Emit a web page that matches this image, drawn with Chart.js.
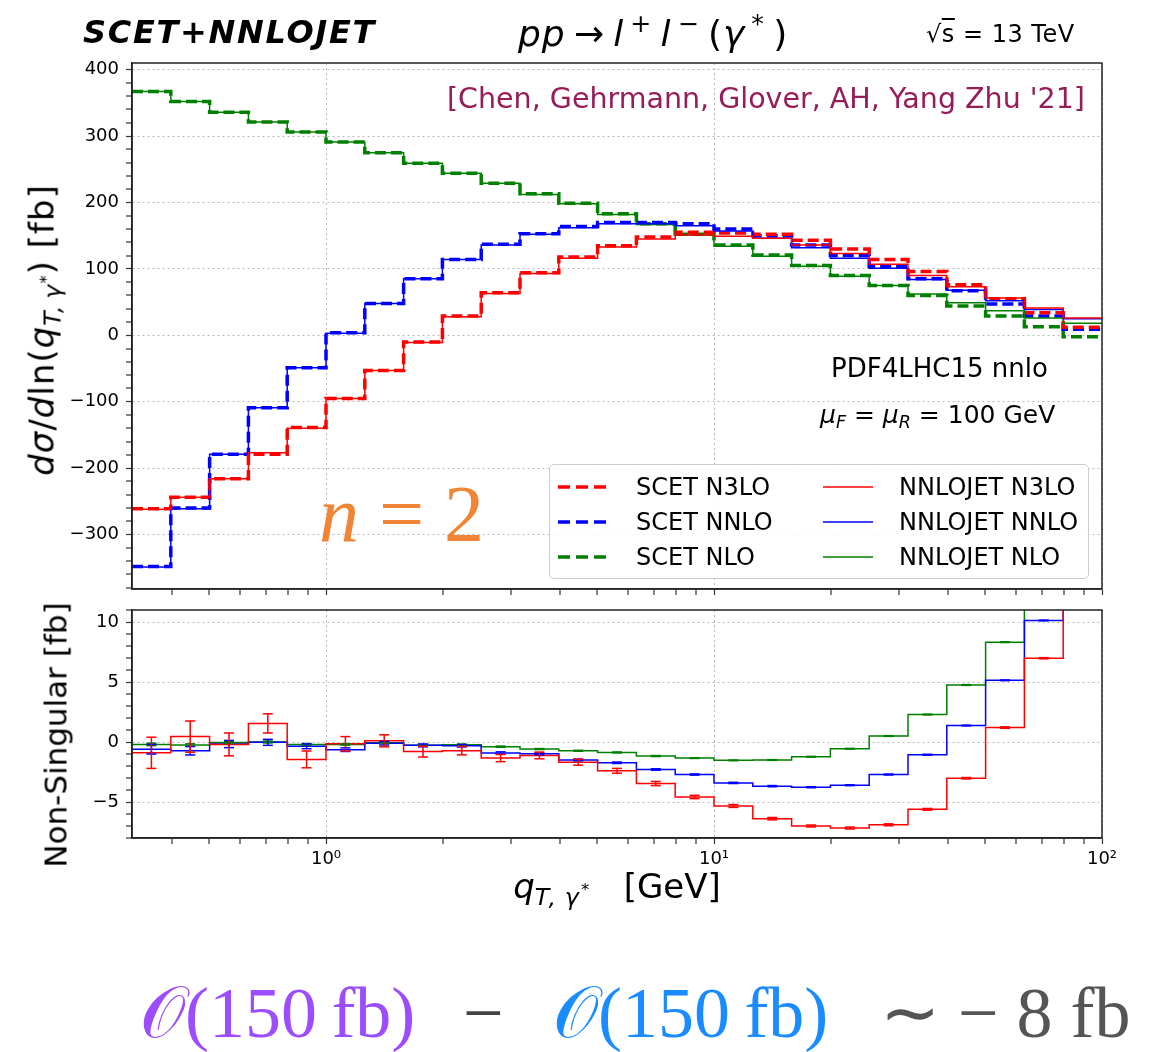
<!DOCTYPE html>
<html lang="en">
<head>
  <meta charset="UTF-8">
  <title>SCET vs NNLOJET qT</title>
  <script src="https://cdn.jsdelivr.net/npm/chart.js"></script>
  <style>
    body { margin: 0; background: #fff; font-family: 'DejaVu Sans', sans-serif; }
    #page { position: relative; width: 1157px; height: 1052px; overflow: hidden; }
    canvas { position: absolute; left: 0; }
    .txt { position: absolute; white-space: nowrap; color: #000; line-height: 1; }
    .rot { transform: translate(-50%, -50%) rotate(-90deg); }
    .ctr { transform: translate(-50%, -50%); }
    .sub { font-size: 0.7em; vertical-align: -0.3em; }
    .sup { font-size: 0.7em; vertical-align: 0.55em; }
    #legend { position: absolute; left: 549px; top: 464px; width: 538px; height: 113px;
      border: 1px solid #ccc; border-radius: 5px; background: rgba(255,255,255,0.85); }
    .leg { position: absolute; font-size: 24px; line-height: 1; }
    .leg svg { position: absolute; left: 0; top: 2px; }
    .leg span { position: absolute; white-space: nowrap; }
    .big { position: absolute; font-family: 'Liberation Serif', serif; font-size: 72px; line-height: 1; white-space: nowrap; }
  </style>
</head>
<body>
  <div id="page">
    <canvas id="topChart" width="1157" height="600" style="top:0"></canvas>
    <canvas id="bottomChart" width="1157" height="280" style="top:600px"></canvas>

    <!-- header -->
    <div class="txt" style="left:83px; top:16px; font-size:32px; font-weight:bold; font-style:italic; letter-spacing:1.7px;">SCET+NNLOJET</div>
    <div class="txt" style="left:518px; top:11px; font-size:36px; letter-spacing:1px;"><i>pp</i>&thinsp;→&thinsp;<i>l</i><span class="sup">&thinsp;+</span>&thinsp;<i>l</i><span class="sup">&thinsp;−</span>&thinsp;(<i>γ</i><span class="sup">&thinsp;*</span>&thinsp;)</div>
    <div class="txt" style="left:926px; top:22px; font-size:24px; letter-spacing:0.5px;">√<span style="text-decoration:overline">s</span>&nbsp;=&nbsp;13 TeV</div>

    <!-- texts inside upper panel -->
    <div class="txt" style="left:447px; top:85px; font-size:28.5px; color:#961c5a;">[Chen, Gehrmann, Glover, AH, Yang Zhu '21]</div>
    <div class="txt" style="left:831px; top:355px; font-size:26px;">PDF4LHC15 nnlo</div>
    <div class="txt" style="left:820px; top:402px; font-size:25px;"><i>μ</i><span class="sub"><i>F</i></span>&nbsp;=&nbsp;<i>μ</i><span class="sub"><i>R</i></span>&nbsp;=&nbsp;100 GeV</div>
    <div class="txt" style="left:319px; top:474px; font-size:80px; color:#ef8535; font-family:'Liberation Serif', serif;"><i>n</i>&nbsp;=&nbsp;2</div>

    <div id="legend"></div>

    <!-- axis titles -->
    <div class="txt rot" style="left:45px; top:330px; font-size:34px; letter-spacing:1px;"><i>dσ</i>/<i>d</i>ln(<i>q</i><span class="sub"><i>T,&thinsp;γ</i><span class="sup">*</span></span>) [fb]</div>
    <div class="txt rot" style="left:56px; top:735px; font-size:31px;">Non-Singular [fb]</div>
    <div class="txt ctr" style="left:617px; top:889px; font-size:34px;"><i>q</i><span class="sub" style="letter-spacing:2px"><i>T,&thinsp;γ</i><span class="sup">*</span></span>&nbsp;&nbsp;&nbsp;[GeV]</div>

    <!-- bottom formula -->
    <div class="big" style="left:140px; top:977px; color:#9b4dff;">𝒪(150&thinsp;fb)</div>
    <div class="big" style="left:463px; top:977px; color:#444;">−</div>
    <div class="big" style="left:553px; top:977px; color:#1a8cff;">𝒪(150&thinsp;fb)</div>
    <div class="big" style="left:880px; top:977px; color:#555;">∼ − 8 fb</div>
  </div>

  <script>
    // bin edges in qT [GeV], 0.1 decade wide
    const binEdges = [0.3162, 0.3981, 0.5012, 0.6310, 0.7943, 1.0, 1.2589, 1.5849, 1.9953, 2.5119,
      3.1623, 3.9811, 5.0119, 6.3096, 7.9433, 10.0, 12.589, 15.849, 19.953, 25.119,
      31.623, 39.811, 50.119, 63.096, 79.433, 100.0];

    // upper panel: dsigma/dln(qT) [fb]
    const scetN3LO = [-261, -244, -216, -179, -139, -95, -53, -10, 29, 64, 94, 118, 135, 148, 155, 154, 152, 143, 130, 114, 96, 76, 55, 34, 12];
    const scetNNLO = [-348, -260, -179, -109, -49, 4, 48, 85, 114, 137, 153, 164, 170, 170, 168, 160, 150, 136, 120, 104, 85, 67, 47, 29, 9];
    const scetNLO = [367, 352, 336, 321, 306, 291, 275, 259, 244, 229, 213, 199, 183, 168, 152, 136, 121, 105, 90, 75, 60, 44, 29, 13, -2];
    const jetN3LO = [-262, -244, -216, -177, -140, -95, -53, -11, 28, 63, 93, 116, 133, 145, 151, 149, 146, 136, 123, 107, 90, 73, 56, 41, 26];
    const jetNNLO = [-349, -261, -179, -109, -49, 3, 48, 85, 114, 136, 152, 162, 168, 168, 165, 157, 146, 132, 116, 101, 84, 68, 52, 39, 25];
    const jetNLO = [367, 352, 336, 321, 306, 291, 275, 259, 244, 229, 212, 198, 182, 167, 151, 134, 119, 104, 89, 75, 62, 49, 37, 26, 18];

    // lower panel: non-singular [fb] and MC errors
    const nsN3LO = [-0.9, 0.45, -0.2, 1.55, -1.45, -0.15, 0.1, -0.8, -0.72, -1.34, -1.12, -1.68, -2.4, -3.46, -4.58, -5.33, -6.39, -7.0, -7.17, -6.9, -5.61, -3.02, 1.2, 6.98, 13.5];
    const nsNNLO = [-0.6, -0.73, -0.17, -0.03, -0.36, -0.64, -0.1, -0.28, -0.31, -0.92, -0.98, -1.5, -1.73, -2.29, -2.71, -3.41, -3.68, -3.77, -3.6, -2.71, -1.06, 1.37, 5.14, 10.13, 16.5];
    const nsNLO = [-0.2, -0.25, -0.05, 0.0, -0.2, -0.2, -0.06, -0.28, -0.22, -0.39, -0.59, -0.73, -0.87, -1.17, -1.34, -1.53, -1.5, -1.23, -0.56, 0.5, 2.29, 4.75, 8.32, 13.4, 20.0];
    const errN3LO = [1.3, 1.3, 0.95, 0.8, 0.7, 0.6, 0.5, 0.45, 0.35, 0.3, 0.28, 0.25, 0.2, 0.17, 0.14, 0.12, 0.1, 0.08, 0.08, 0.08, 0.07, 0.06, 0.06, 0.05, 0.05];
    const errNNLO = [0.4, 0.35, 0.3, 0.25, 0.2, 0.15, 0.15, 0.12, 0.1, 0.1, 0.08, 0.07, 0.06, 0.06, 0.05, 0.05, 0.05, 0.04, 0.04, 0.04, 0.04, 0.03, 0.03, 0.03, 0.03];
    const errNLO = [0.1, 0.1, 0.08, 0.08, 0.07, 0.06, 0.06, 0.05, 0.05, 0.05, 0.04, 0.04, 0.04, 0.04, 0.03, 0.03, 0.03, 0.03, 0.03, 0.03, 0.03, 0.03, 0.03, 0.03, 0.03];

    // ticks
    const xMin = 0.3162, xMax = 100;
    const xMajorTicks = [1, 10, 100];
    const xMajorLabels = ['10⁰', '10¹', '10²'];
    const xMinorTicks = [0.4, 0.5, 0.6, 0.7, 0.8, 0.9, 2, 3, 4, 5, 6, 7, 8, 9, 20, 30, 40, 50, 60, 70, 80, 90];
    const yTopMajor = [-300, -200, -100, 0, 100, 200, 300, 400];
    const yBotMajor = [-5, 0, 5, 10];

    const legendLabels = ['SCET N3LO', 'NNLOJET N3LO', 'SCET NNLO', 'NNLOJET NNLO', 'SCET NLO', 'NNLOJET NLO'];
    const RED = '#ff0000', BLUE = '#0000ff', GREEN = '#008000';

    function stepPoints(vals) {
      return binEdges.map((e, i) => ({ x: e, y: vals[Math.min(i, vals.length - 1)] }));
    }
    function errPoints(vals, errs) {
      const pts = [];
      vals.forEach((v, i) => {
        const c = Math.sqrt(binEdges[i] * binEdges[i + 1]);
        pts.push({ x: c, y: v - errs[i] }, { x: c, y: v + errs[i] }, { x: c, y: null });
      });
      return pts;
    }
    const minus = v => String(v).replace('-', '−');

    // draws the closed box around the plot area
    const frame = {
      id: 'frame',
      afterDraw(chart) {
        const a = chart.chartArea, c = chart.ctx;
        c.save();
        c.strokeStyle = '#222';
        c.lineWidth = 1.5;
        c.strokeRect(a.left, a.top, a.right - a.left, a.bottom - a.top);
        c.restore();
      }
    };

    function xAxis(showLabels, height) {
      return {
        type: 'logarithmic', min: xMin, max: xMax, bounds: 'data',
        afterBuildTicks: s => {
          s.ticks = xMinorTicks.concat(xMajorTicks).sort((a, b) => a - b).map(v => ({ value: v }));
          s.min = xMin;  // keep the exact 10^-0.5 edge
          s.max = xMax;
        },
        afterFit: s => { s.height = height; s.paddingLeft = 0; s.paddingRight = 0; },
        ticks: {
          display: showLabels, autoSkip: false, maxRotation: 0, padding: 5, color: '#000',
          font: { family: 'DejaVu Sans', size: 18 },
          callback: v => { const k = xMajorTicks.indexOf(v); return k >= 0 ? xMajorLabels[k] : ''; }
        },
        grid: {
          color: '#b8b8b8', tickColor: '#333', tickWidth: 1.2, tickLength: 6,
          lineWidth: c => (c.tick && xMajorTicks.includes(c.tick.value) ? 1 : 0)
        },
        border: { color: '#222', width: 1.5, dash: [2, 3] }
      };
    }

    function yAxis(min, max, step, majors) {
      return {
        type: 'linear', min: min, max: max,
        afterBuildTicks: s => {
          const t = [];
          for (let v = Math.ceil(min / step) * step; v <= max; v += step) t.push({ value: v });
          s.ticks = t;
        },
        afterFit: s => { s.width = 132; s.paddingTop = 0; s.paddingBottom = 0; },
        ticks: {
          autoSkip: false, padding: 7, color: '#000',
          font: { family: 'DejaVu Sans', size: 18 },
          callback: v => (majors.includes(v) ? minus(v) : '')
        },
        grid: {
          color: '#b8b8b8', tickColor: '#333', tickWidth: 1.2, tickLength: 6,
          lineWidth: c => (c.tick && majors.includes(c.tick.value) ? 1 : 0)
        },
        border: { color: '#222', width: 1.5, dash: [2, 3] }
      };
    }

    const baseOpts = {
      responsive: false,
      animation: false,
      events: [],
      plugins: { legend: { display: false }, tooltip: { enabled: false } },
      elements: { point: { radius: 0 }, line: { tension: 0 } }
    };

    function hist(vals, color, width, dash) {
      return {
        data: stepPoints(vals), stepped: true, borderColor: color, borderWidth: width,
        borderDash: dash || [], fill: false, pointRadius: 0
      };
    }
    function errBars(vals, errs, color) {
      return {
        data: errPoints(vals, errs), borderColor: color, borderWidth: 1.5, spanGaps: false,
        pointStyle: 'line', pointRadius: 5, pointBorderColor: color, pointBorderWidth: 1.5
      };
    }

    // upper panel
    new Chart(document.getElementById('topChart'), {
      type: 'line',
      data: {
        datasets: [
          hist(jetN3LO, RED, 1.5), hist(jetNNLO, BLUE, 1.5), hist(jetNLO, GREEN, 1.5),
          hist(scetN3LO, RED, 3.5, [11, 5]), hist(scetNNLO, BLUE, 3.5, [11, 5]), hist(scetNLO, GREEN, 3.5, [11, 5])
        ]
      },
      options: Object.assign({}, baseOpts, {
        layout: { autoPadding: false, padding: { top: 63, right: 55, bottom: 0, left: 0 } },
        scales: { x: xAxis(false, 11), y: yAxis(-382, 410, 20, yTopMajor) }
      }),
      plugins: [frame]
    });

    // lower panel
    new Chart(document.getElementById('bottomChart'), {
      type: 'line',
      data: {
        datasets: [
          errBars(nsN3LO, errN3LO, RED), errBars(nsNNLO, errNNLO, BLUE), errBars(nsNLO, errNLO, GREEN),
          hist(nsN3LO, RED, 1.5), hist(nsNNLO, BLUE, 1.5), hist(nsNLO, GREEN, 1.5)
        ]
      },
      options: Object.assign({}, baseOpts, {
        layout: { autoPadding: false, padding: { top: 10, right: 55, bottom: 0, left: 0 } },
        scales: { x: xAxis(true, 42), y: yAxis(-8, 11, 1, yBotMajor) }
      }),
      plugins: [frame]
    });

    // legend, two columns
    const legendColors = [RED, RED, BLUE, BLUE, GREEN, GREEN];
    const legendBox = document.getElementById('legend');
    legendLabels.forEach((lab, i) => {
      const col = i % 2, row = Math.floor(i / 2);
      const dashed = col === 0;
      const item = document.createElement('div');
      item.className = 'leg';
      item.style.left = (col === 0 ? 8 : 273) + 'px';
      item.style.top = (10 + row * 35) + 'px';
      item.innerHTML =
        '<svg width="52" height="20"><line x1="0" y1="10" x2="50" y2="10" stroke="' + legendColors[i] +
        '" stroke-width="' + (dashed ? 3.5 : 1.5) + '"' + (dashed ? ' stroke-dasharray="12 6"' : '') + '/></svg>' +
        '<span style="left:' + (col === 0 ? 78 : 76) + 'px; top:0">' + lab + '</span>';
      legendBox.appendChild(item);
    });
  </script>
</body>
</html>
